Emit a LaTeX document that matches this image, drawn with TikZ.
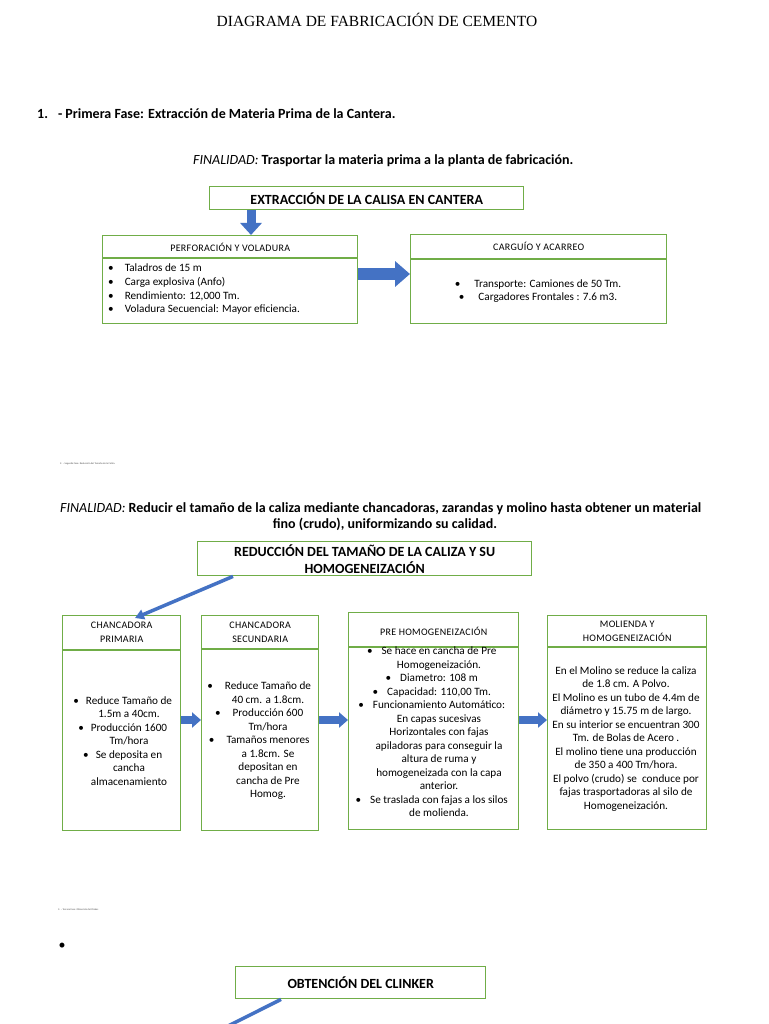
\documentclass[tikz,border=0pt]{standalone}
\usepackage{fontspec}
\setmainfont{Carlito}
\newfontfamily\serifT{Liberation Serif}
\newfontfamily\hdr[LetterSpace=3]{Carlito}
\usetikzlibrary{arrows.meta}
\definecolor{grn}{HTML}{70AD47}
\definecolor{blu}{HTML}{4472C4}
\begin{document}
\begin{tikzpicture}[x=1pt,y=-1pt,
  box/.style={draw=grn, line width=1.4pt, anchor=north west, inner sep=0pt},
  sep/.style={draw=grn, line width=1.2pt},
  plain/.style={inner sep=0pt, anchor=base west},
  hd/.style={inner sep=0pt, align=center, font=\hdr\fontsize{10}{14}\selectfont},
  body/.style={inner sep=0pt, align=center, font=\fontsize{11.2}{13.5}\selectfont},
  bigarrow/.style={draw=blu, line width=12pt, -{Triangle[width=25pt,length=15pt]}},
  downarrow/.style={draw=blu, line width=9pt, -{Triangle[width=21pt,length=12pt]}},
  smallarrow/.style={draw=blu, line width=8pt, -{Triangle[width=15pt,length=9pt]}},
  diag/.style={draw=blu, line width=3.5pt, -{Triangle[width=10pt,length=9pt]}},
  diagline/.style={draw=blu, line width=3.5pt}
]
\useasboundingbox[fill=white] (0,0) rectangle (768,1024);

% Title and first phase
\node[inner sep=0pt, anchor=base, font=\serifT\fontsize{15.5}{17}\selectfont] (title) at (377,27) {DIAGRAMA DE FABRICACIÓN DE CEMENTO};
\node[plain, font=\bfseries\fontsize{14}{16}\selectfont] (fase1) at (37,119) {1.\hspace{10pt}- Primera Fase: Extracción de Materia Prima de la Cantera.};
\node[plain, font=\fontsize{14}{16}\selectfont] (fin1) at (193,165) {\textit{FINALIDAD:} \textbf{Trasportar la materia prima a la planta de fabricación.}};

% Box 1
\node[box, minimum width=314pt, minimum height=23pt] (ext) at (209,186) {};
\node[inner sep=0pt, font=\bfseries\fontsize{14}{16}\selectfont] (extt) at (ext.center) {EXTRACCIÓN DE LA CALISA EN CANTERA};

\node[box, minimum width=255pt, minimum height=88pt] (perf) at (102,235) {};
\draw[sep] ([yshift=-23pt]perf.north west) -- ([yshift=-23pt]perf.north east);
\node[hd] (perfh) at ([yshift=-12pt]perf.north) {PERFORACIÓN Y VOLADURA};
\node[plain, font=\fontsize{11.2}{13.6}\selectfont, anchor=north west, align=left] (perfb) at ([xshift=6pt,yshift=-29pt]perf.north west)
 {\textbullet\hspace{11pt}Taladros de 15 m\\
  \textbullet\hspace{11pt}Carga explosiva (Anfo)\\
  \textbullet\hspace{11pt}Rendimiento: 12,000 Tm.\\
  \textbullet\hspace{11pt}Voladura Secuencial: Mayor eficiencia.};

\node[box, minimum width=256pt, minimum height=89pt] (carg) at (410,234) {};
\draw[sep] ([yshift=-25pt]carg.north west) -- ([yshift=-25pt]carg.north east);
\node[hd] (cargh) at ([yshift=-12pt]carg.north) {CARGUÍO Y ACARREO};
\node[body] (cargb) at (538,291)
 {\textbullet\hspace{14pt}Transporte: Camiones de 50 Tm.\\
  \textbullet\hspace{14pt}Cargadores Frontales : 7.6 m3.};

\draw[downarrow] ([xshift=42pt]ext.south west) -- ([xshift=149pt]perf.north west);
\draw[bigarrow] (perf.east |- 0,274) -- (carg.west |- 0,274);

% Second phase (tiny)
\node[plain, font=\fontsize{2.5}{3}\selectfont, text=black!70] (fase2) at (60,464) {2. – Segunda Fase: Reducción del Tamaño de la Caliza.};

\node[plain, font=\fontsize{14}{16}\selectfont] (fin2a) at (60,512) {\textit{FINALIDAD:} \textbf{Reducir el tamaño de la caliza mediante chancadoras, zarandas y molino hasta obtener un material}};
\node[inner sep=0pt, anchor=base, font=\bfseries\fontsize{14}{16}\selectfont] (fin2b) at (385,528) {fino (crudo), uniformizando su calidad.};

\node[box, minimum width=334pt, minimum height=34pt] (red) at (197,541) {};
\node[inner sep=0pt, align=center, font=\bfseries\fontsize{14}{17}\selectfont] (redt) at (red.center) {REDUCCIÓN DEL TAMAÑO DE LA CALIZA Y SU\\HOMOGENEIZACIÓN};

% Row of four boxes
\node[box, minimum width=118pt, minimum height=215pt] (cp) at (62,615) {};
\draw[sep] ([yshift=-35pt]cp.north west) -- ([yshift=-35pt]cp.north east);
\node[hd] (cph) at ([yshift=-17pt]cp.north) {CHANCADORA\\PRIMARIA};
\node[body] (cpb) at (129,741)
 {\llap{\textbullet\hspace{7pt}}Reduce Tamaño de\\ 1.5m a 40cm.\\
  \llap{\textbullet\hspace{7pt}}Producción 1600\\ Tm/hora\\
  \llap{\textbullet\hspace{7pt}}Se deposita en\\ cancha\\ almacenamiento};

\node[box, minimum width=117pt, minimum height=215pt] (cs) at (201,615) {};
\draw[sep] ([yshift=-34pt]cs.north west) -- ([yshift=-34pt]cs.north east);
\node[hd] (csh) at ([yshift=-17pt]cs.north) {CHANCADORA\\SECUNDARIA};
\node[body] (csb) at (268,741)
 {\llap{\textbullet\hspace{12pt}}Reduce Tamaño de\\ 40 cm. a 1.8cm.\\
  \llap{\textbullet\hspace{12pt}}Producción 600\\ Tm/hora\\
  \llap{\textbullet\hspace{12pt}}Tamaños menores\\ a 1.8cm. Se\\ depositan en\\ cancha de Pre\\ Homog.};

\node[box, minimum width=170pt, minimum height=217pt] (ph) at (348,612) {};
\draw[sep] ([yshift=-35pt]ph.north west) -- ([yshift=-35pt]ph.north east);
\node[hd] (phh) at ([yshift=-19pt]ph.north) {PRE HOMOGENEIZACIÓN};
\node[body] (phb) at (439,732)
 {\llap{\textbullet\hspace{9pt}}Se hace en cancha de Pre\\ Homogeneización.\\
  \llap{\textbullet\hspace{9pt}}Diametro: 108 m\\
  \llap{\textbullet\hspace{9pt}}Capacidad: 110,00 Tm.\\
  \llap{\textbullet\hspace{9pt}}Funcionamiento Automático:\\ En capas sucesivas\\ Horizontales con fajas\\ apiladoras para conseguir la\\ altura de ruma y\\ homogeneizada con la capa\\ anterior.\\
  \llap{\textbullet\hspace{9pt}}Se traslada con fajas a los silos\\ de molienda.};

\node[box, minimum width=159pt, minimum height=214pt] (mo) at (547,615) {};
\draw[sep] ([yshift=-32pt]mo.north west) -- ([yshift=-32pt]mo.north east);
\node[hd] (moh) at ([yshift=-16pt]mo.north) {MOLIENDA Y\\HOMOGENEIZACIÓN};
\node[body] (mob) at (626,739)
 {En el Molino se reduce la caliza\\ de 1.8 cm. A Polvo.\\
  El Molino es un tubo de 4.4m de\\ diámetro y 15.75 m de largo.\\
  En su interior se encuentran 300\\ Tm. de Bolas de Acero .\\
  El molino tiene una producción\\ de 350 a 400 Tm/hora.\\
  El polvo (crudo) se\ \ conduce por\\ fajas trasportadoras al silo de\\ Homogeneización.};

\draw[diag] ([xshift=36pt]red.south west) -- ([xshift=73pt,yshift=-3pt]cp.north west);
\draw[smallarrow] (cp.east |- 0,720) -- (cs.west |- 0,720);
\draw[smallarrow] (cs.east |- 0,720) -- (ph.west |- 0,720);
\draw[smallarrow] (ph.east |- 0,720) -- (mo.west |- 0,720);

% Third phase
\node[plain, font=\fontsize{2.5}{3}\selectfont, text=black!70] (fase3) at (58,910) {3. – Tercera Fase: Obtención del Clinker.};
\node[inner sep=0pt, font=\fontsize{14}{14}\selectfont] (bul) at (62,946) {\textbullet};
\node[box, minimum width=250pt, minimum height=32pt] (obt) at (235,966) {};
\node[inner sep=0pt, font=\bfseries\fontsize{14}{16}\selectfont] (obtt) at (obt.center) {OBTENCIÓN DEL CLINKER};
\coordinate (obtend) at (228,1026);
\draw[diagline] ([xshift=46pt]obt.south west) -- (obtend);
\end{tikzpicture}
\end{document}
